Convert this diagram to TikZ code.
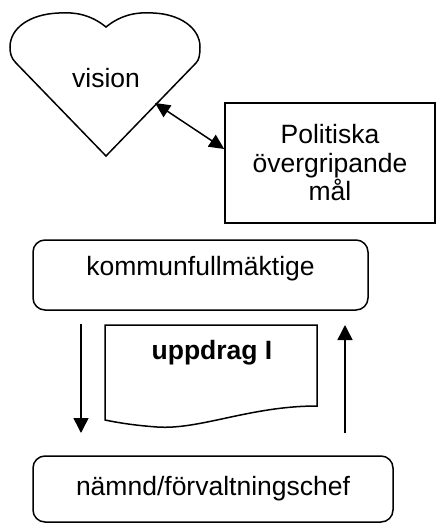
\documentclass[tikz,border=0pt]{standalone}
\usepackage{fontspec}
\setmainfont{Liberation Sans}
\usepackage{tikz}
\usetikzlibrary{arrows.meta}

\begin{document}
\begin{tikzpicture}[x=1pt,y=1pt,line width=1.5pt,
  every node/.style={font=\fontsize{26.5}{28.5}\selectfont},
  flat box/.style={draw,rectangle,inner sep=0pt},
  round box/.style={draw,rectangle,rounded corners=12pt,inner sep=0pt},
  arr/.style={-{Triangle[length=15pt,width=15pt]}},
  twoarr/.style={{Triangle[length=15pt,width=14pt]}-{Triangle[length=15pt,width=14pt]}}]

  \useasboundingbox (0,0) rectangle (436,-524);

  % heart
  \draw (106,-27) .. controls (122,-14) and (138,-12) .. (153,-13)
    .. controls (180,-14) and (200,-28) .. (200,-47)
    .. controls (200,-55) and (199,-60) .. (196,-63) -- (106,-156) -- (16,-63)
    .. controls (11,-58) and (10,-53) .. (10,-47)
    .. controls (10,-28) and (30,-14) .. (59,-13)
    .. controls (74,-12) and (90,-14) .. (106,-27) -- cycle;
  \node (vision) at (106,-78) {vision};
  \coordinate (heartedge) at (155,-103);

  \node[flat box, minimum width=210pt, minimum height=120pt, align=center] (polit) at (330,-163) {Politiska\\övergripande\\mål};

  \node[round box, minimum width=335pt, minimum height=70pt, text height=10pt, text depth=10pt] (kommun) at (200.5,-275) {kommunfullmäktige};
  \node[round box, minimum width=360pt, minimum height=66pt] (namnd) at (213,-489) {nämnd/förvaltningschef};

  % document
  \draw (105,-325) -- (317,-325) -- (317,-406)
    .. controls (250,-406) and (200,-430) .. (157,-427)
    .. controls (130,-425) and (115,-422) .. (105,-420) -- cycle;
  \node[font=\fontsize{26.5}{28.5}\selectfont\bfseries] (uppdrag) at (212,-353) {uppdrag I};

  \coordinate (lefttop) at (81,-324);
  \coordinate (leftbot) at (81,-433);
  \coordinate (rightbot) at (345,-433);
  \coordinate (righttop) at (345,-325);

  \draw[twoarr] (heartedge) -- ([yshift=14pt]polit.west);
  \draw[arr] (lefttop) -- (leftbot);
  \draw[arr] (rightbot) -- (righttop);
\end{tikzpicture}
\end{document}
